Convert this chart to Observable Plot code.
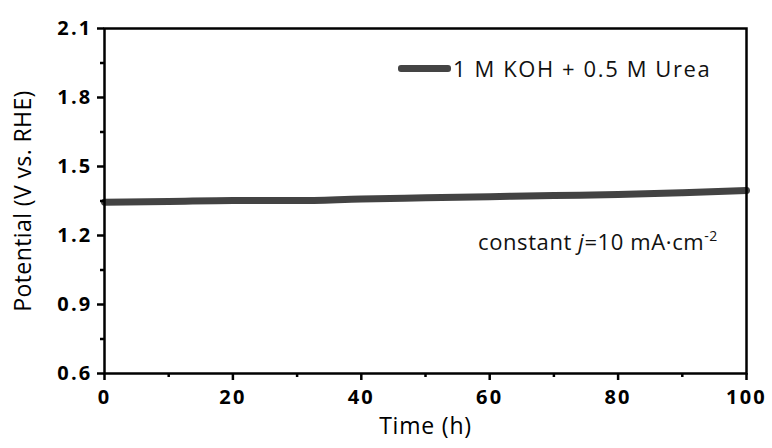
<!DOCTYPE html>
<html><head><meta charset="utf-8">
<script src="https://cdn.jsdelivr.net/npm/d3@7"></script>
<script src="https://cdn.jsdelivr.net/npm/@observablehq/plot@0.6"></script>
<style>
body{margin:0;background:#fff;}
#wrap{position:relative;width:772px;height:448px;font-family:"Open Sans",sans-serif;}
#legend{position:absolute;left:398px;top:53px;display:flex;align-items:center;font-size:22px;letter-spacing:1.6px;color:#111;white-space:nowrap;}
#legend .sw{width:53px;height:7px;background:#444;border-radius:3px;margin-right:2px;}
#note{position:absolute;left:478px;top:226px;font-size:22px;letter-spacing:0.6px;color:#111;white-space:nowrap;line-height:30px;}
#note sup{font-size:14px;vertical-align:9px;line-height:0;}
svg g[aria-label="x-axis tick label"] text, svg g[aria-label="y-axis tick label"] text{letter-spacing:2.2px;font-size:20px;font-weight:bold;}
svg g[aria-label="x-axis label"] text{font-size:23px;letter-spacing:0.8px;font-weight:normal;}
svg g[aria-label="y-axis label"] text{font-size:23px;letter-spacing:0.4px;font-weight:normal;}
</style></head>
<body><div id="wrap"><div id="legend"><div class="sw"></div><span>1 M KOH + 0.5 M Urea</span></div>
<div id="note">constant <i>j</i>=10 mA·cm<sup>-2</sup></div></div>
<script>
const time = [0, 10, 20, 30, 40, 50, 60, 70, 80, 90, 100];
const potential = [1.345, 1.348, 1.352, 1.352, 1.359, 1.364, 1.369, 1.374, 1.378, 1.386, 1.396];
const xTicks = [0, 20, 40, 60, 80, 100];
const xMinor = [10, 30, 50, 70, 90];
const yTicks = [0.6, 0.9, 1.2, 1.5, 1.8, 2.1];
const yMinor = [0.75, 1.05, 1.35, 1.65, 1.95];
const data = time.map((t, i) => ({t, v: potential[i]}));

const chart = Plot.plot({
  width: 772, height: 448,
  marginLeft: 104, marginRight: 26, marginTop: 28, marginBottom: 75,
  style: {fontFamily: "'Open Sans', sans-serif", background: "transparent", color: "#000"},
  x: {domain: [0, 100]},
  y: {domain: [0.6, 2.1]},
  marks: [
    Plot.line(data, {x: "t", y: "v", stroke: "#434343", strokeWidth: 7, curve: "monotone-x"}),
    Plot.axisX(xMinor, {tickSize: 4, tickFormat: () => "", strokeWidth: 2.5, label: null}),
    Plot.axisY(yMinor, {tickSize: 4, tickFormat: () => "", strokeWidth: 2.5, label: null}),
    Plot.axisX(xTicks, {tickSize: 7, strokeWidth: 2.5, tickPadding: 9,
      label: "Time (h)", labelAnchor: "center", labelArrow: "none", labelOffset: 60}),
    Plot.axisY(yTicks, {tickSize: 7, strokeWidth: 2.5, tickPadding: 5,
      tickFormat: d3.format(".1f"),
      label: "Potential (V vs. RHE)", labelAnchor: "center", labelArrow: "none", labelOffset: 90}),
    Plot.frame({stroke: "#000", strokeWidth: 2.5})
  ]
});
chart.style.position = "absolute";
chart.style.left = "0"; chart.style.top = "0";
const wrap = document.getElementById("wrap");
wrap.insertBefore(chart, wrap.firstChild);
</script></body></html>
